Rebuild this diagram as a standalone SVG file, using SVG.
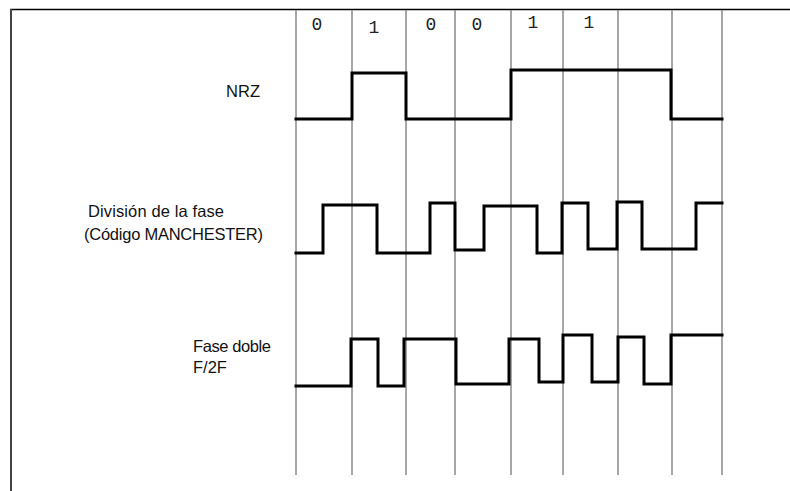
<svg xmlns="http://www.w3.org/2000/svg" width="790" height="491" viewBox="0 0 790 491">
<style>
.grid{stroke:#8a8a8a;stroke-width:1.5;fill:none}
.sig{stroke:#000;stroke-width:3;fill:none;stroke-linejoin:miter;stroke-linecap:square}
.lbl{font-family:"Liberation Sans",Arial,sans-serif;font-size:16.5px;fill:#111}
.bit{font-family:"Liberation Mono","Courier New",monospace;font-size:18px;fill:#222;text-anchor:middle}
</style>
<rect x="0" y="0" width="790" height="491" fill="#fff"/>
<g id="frame">
<line x1="10" y1="9.5" x2="790" y2="9.5" stroke="#000" stroke-width="1.5"/>
<line x1="11" y1="9" x2="11" y2="491" stroke="#444" stroke-width="2"/>
</g>
<g id="grid" class="grid">
<line x1="296" y1="10" x2="296" y2="475"/>
<line x1="352" y1="10" x2="352" y2="475"/>
<line x1="406" y1="10" x2="406" y2="475"/>
<line x1="455" y1="10" x2="455" y2="475"/>
<line x1="511" y1="10" x2="511" y2="475"/>
<line x1="563" y1="10" x2="563" y2="475"/>
<line x1="618" y1="10" x2="618" y2="475"/>
<line x1="672" y1="10" x2="672" y2="475"/>
<line x1="722" y1="10" x2="722" y2="475"/>
</g>
<g id="bits">
<text class="bit" x="317" y="30">0</text>
<text class="bit" x="374" y="33">1</text>
<text class="bit" x="431" y="30">0</text>
<text class="bit" x="477" y="30">0</text>
<text class="bit" x="533" y="28">1</text>
<text class="bit" x="589" y="28">1</text>
</g>
<g id="nrz">
<text class="lbl" x="226" y="97" textLength="34">NRZ</text>
<path class="sig" d="M296,119 H352 V73 H406 V119 H511 V70 H671 V119 H722"/>
</g>
<g id="manchester">
<text class="lbl" x="88" y="217" textLength="136">División de la fase</text>
<text class="lbl" x="84" y="240" textLength="179">(Código MANCHESTER)</text>
<path class="sig" d="M296,253 H323 V205 H377 V253 H430 V203 H455 V250 H484 V206 H537 V253 H562 V203 H588 V249 H617 V202 H642 V249 H696 V203 H722"/>
</g>
<g id="f2f">
<text class="lbl" x="193" y="352" textLength="78">Fase doble</text>
<text class="lbl" x="193" y="373">F/2F</text>
<path class="sig" d="M296,386 H351 V339 H378 V386 H404 V339 H456 V384 H509 V339 H539 V382 H563 V335 H592 V382 H618 V337 H644 V384 H671 V335 H722"/>
</g>
</svg>
